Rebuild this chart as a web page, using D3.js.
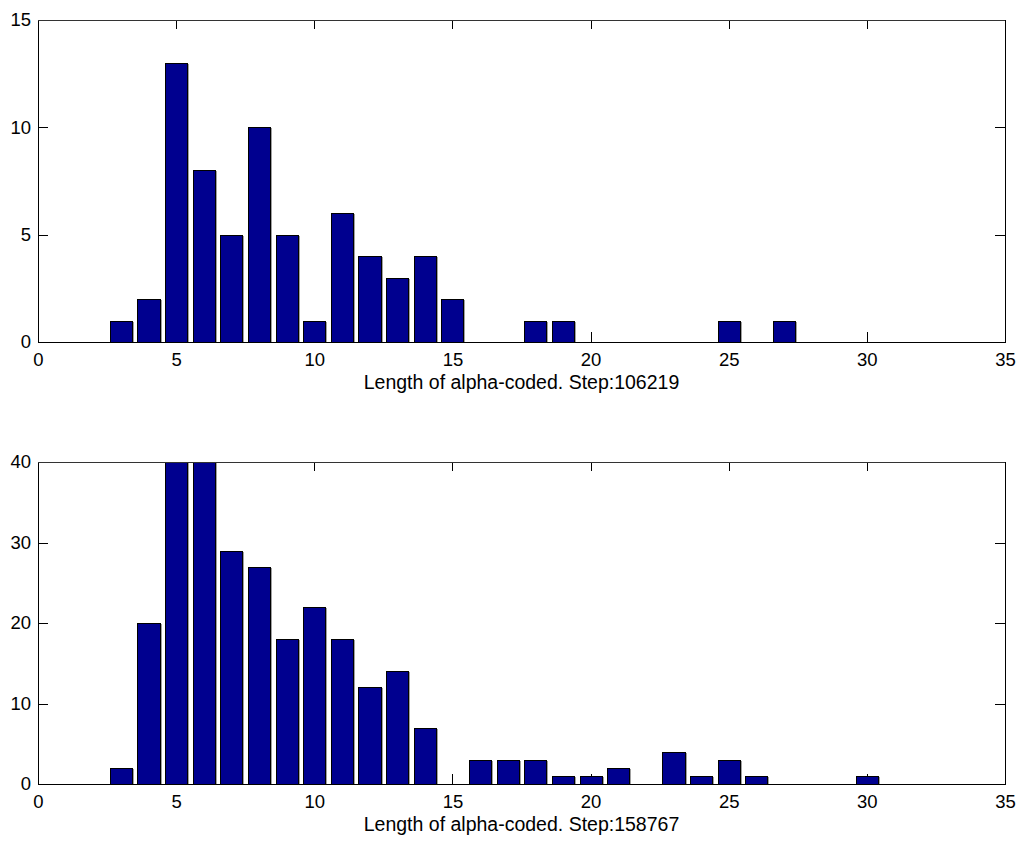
<!DOCTYPE html>
<html>
<head>
<meta charset="utf-8">
<script src="https://cdn.jsdelivr.net/npm/d3@7"></script>
<style>
  body { margin: 0; background: #fff; }
  svg text { font-family: "Liberation Sans", Arial, sans-serif; fill: #000; }
</style>
</head>
<body>
<div id="chart"></div>
<script>
// Width and height of the figure
var w = 1019;
var h = 841;

// shared x axis ticks
var xTicks = [0, 5, 10, 15, 20, 25, 30, 35];

// top histogram
var topBins = [3, 4, 5, 6, 7, 8, 9, 10, 11, 12, 13, 14, 15, 18, 19, 25, 27];
var topCounts = [1, 2, 13, 8, 5, 10, 5, 1, 6, 4, 3, 4, 2, 1, 1, 1, 1];
var topYTicks = [0, 5, 10, 15];
var topLabel = "Length of alpha-coded. Step:106219";

// bottom histogram (bars at 5 and 6 run past the top of the axes)
var bottomBins = [3, 4, 5, 6, 7, 8, 9, 10, 11, 12, 13, 14, 16, 17, 18, 19, 20, 21, 23, 24, 25, 26, 30];
var bottomCounts = [2, 20, 45, 42, 29, 27, 18, 22, 18, 12, 14, 7, 3, 3, 3, 1, 1, 2, 4, 1, 3, 1, 1];
var bottomYTicks = [0, 10, 20, 30, 40];
var bottomLabel = "Length of alpha-coded. Step:158767";

var left = 38, right = 1005;
var barWidth = 0.8;

var svg = d3.select("#chart")
  .append("svg")
  .attr("width", w)
  .attr("height", h);

var x = d3.scaleLinear().domain([0, 35]).range([left, right]);

function drawPanel(id, top, bottom, bins, counts, yTicks, label) {
  var yMax = yTicks[yTicks.length - 1];
  var y = d3.scaleLinear().domain([0, yMax]).range([bottom, top]);
  var g = svg.append("g");

  g.append("clipPath").attr("id", id)
    .append("rect")
    .attr("x", left).attr("y", top)
    .attr("width", right - left).attr("height", bottom - top);

  //inward ticks on all four sides, labels only bottom and left
  g.append("g")
    .attr("transform", "translate(0," + bottom + ")")
    .call(d3.axisBottom(x).tickValues(xTicks).tickSizeInner(-10).tickSizeOuter(0).tickPadding(11));
  g.append("g")
    .attr("transform", "translate(0," + top + ")")
    .call(d3.axisTop(x).tickValues(xTicks).tickSizeInner(-9).tickSizeOuter(0).tickFormat(""));
  g.append("g")
    .attr("transform", "translate(" + left + ",0)")
    .call(d3.axisLeft(y).tickValues(yTicks).tickSizeInner(-10).tickSizeOuter(0).tickPadding(7));
  g.append("g")
    .attr("transform", "translate(" + right + ",0)")
    .call(d3.axisRight(y).tickValues(yTicks).tickSizeInner(-10).tickSizeOuter(0).tickFormat(""));

  g.selectAll(".domain").attr("stroke", "#000").attr("shape-rendering", "crispEdges");
  g.selectAll(".tick line").attr("stroke", "#000").attr("shape-rendering", "crispEdges");
  g.selectAll(".tick text").attr("font-size", "18.5px");

  var data = bins.map(function(b, i) { return { bin: b, count: counts[i] }; });
  var bars = g.append("g").attr("clip-path", "url(#" + id + ")");

  bars.selectAll("rect")
    .data(data)
    .enter()
    .append("rect")
    .attr("x", function(d) { return Math.round(x(d.bin - barWidth / 2)) + 0.5; })
    .attr("y", function(d) { return Math.round(y(d.count)) + 0.5; })
    .attr("width", function(d) { return Math.round(x(d.bin + barWidth / 2)) - Math.round(x(d.bin - barWidth / 2)); })
    .attr("height", function(d) { return Math.round(y(0)) - Math.round(y(d.count)); })
    .attr("fill", "#00008f")
    .attr("stroke", "#000")
    .attr("stroke-width", 1);

  //grey shading on the right edge of every bar
  bars.selectAll("line.shade")
    .data(data)
    .enter()
    .append("line")
    .attr("class", "shade")
    .attr("x1", function(d) { return Math.round(x(d.bin + barWidth / 2)) + 1.5; })
    .attr("x2", function(d) { return Math.round(x(d.bin + barWidth / 2)) + 1.5; })
    .attr("y1", function(d) { return Math.round(y(d.count)) + 1; })
    .attr("y2", function(d) { return Math.round(y(0)); })
    .attr("stroke", "#a0a0a0")
    .attr("stroke-width", 1);

  //baseline and box edges over the bars
  g.append("line")
    .attr("x1", left).attr("x2", right)
    .attr("y1", Math.round(bottom) + 0.5).attr("y2", Math.round(bottom) + 0.5)
    .attr("stroke", "#000");
  g.append("line")
    .attr("x1", left).attr("x2", right)
    .attr("y1", Math.round(top) + 0.5).attr("y2", Math.round(top) + 0.5)
    .attr("stroke", "#333");

  g.append("text")
    .attr("x", (left + right) / 2)
    .attr("y", bottom + 46.5)
    .attr("text-anchor", "middle")
    .attr("font-size", "19.5px")
    .text(label);
}

drawPanel("clipTop", 20, 342, topBins, topCounts, topYTicks, topLabel);
drawPanel("clipBottom", 462, 784, bottomBins, bottomCounts, bottomYTicks, bottomLabel);
</script>
</body>
</html>
